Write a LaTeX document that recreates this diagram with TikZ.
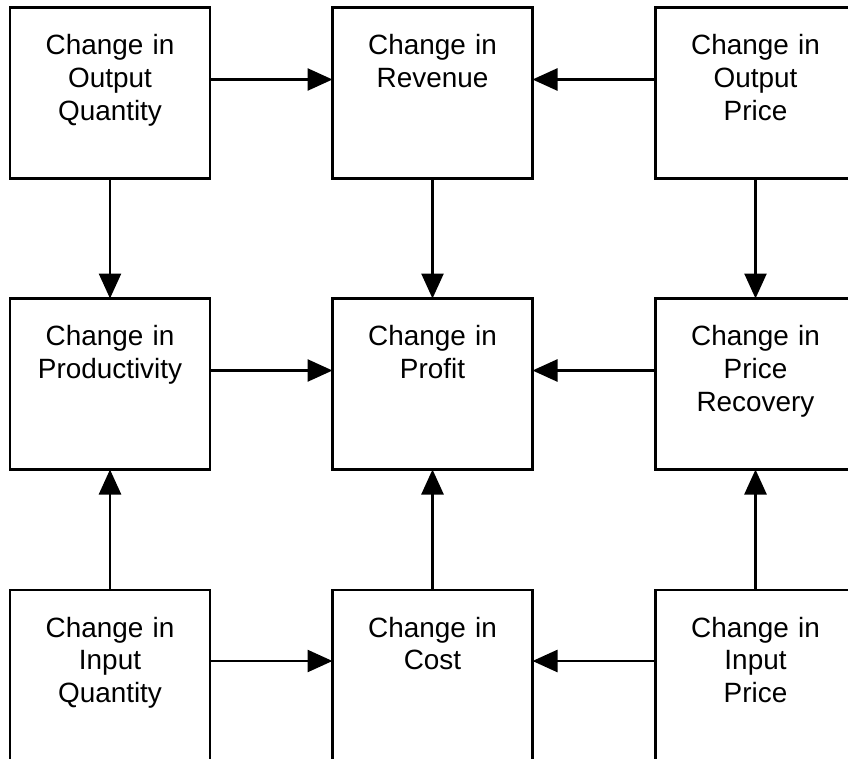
\documentclass[tikz,border=0pt]{standalone}
\usepackage{fontspec}
\setmainfont{Liberation Sans}
\usetikzlibrary{arrows.meta}

\begin{document}
\begin{tikzpicture}[x=1bp,y=-1bp,
  box/.style={draw=black,line width=2.8bp,minimum width=200bp,minimum height=171bp,
    inner sep=0pt,outer sep=0pt},
  lbl/.style={anchor=base,text width=190bp,align=center,inner sep=0pt,
    font=\fontsize{28}{33}\selectfont},
  arr/.style={line width=2.6bp,-{Triangle[length=25bp,width=22bp]}}]
  \useasboundingbox (0,0) rectangle (848,759);
  \clip (0,0) rectangle (848,759);

  % boxes, row by row
  \node[box] (oq)  at (110,93)    {};
  \node[box] (rev) at (432.5,93)  {};
  \node[box] (op)  at (755.5,93)  {};
  \node[box] (prd) at (110,384)   {};
  \node[box] (pft) at (432.5,384) {};
  \node[box] (pr)  at (755.5,384) {};
  \node[box] (iq)  at (110,675.5) {};
  \node[box] (cst) at (432.5,675.5) {};
  \node[box] (ip)  at (755.5,675.5) {};

  % captions, first baseline 47bp below each box top
  \node[lbl] (toq)  at ([yshift=-47bp]oq.north)  {Change in\\Output\\Quantity};
  \node[lbl] (trev) at ([yshift=-47bp]rev.north) {Change in\\Revenue};
  \node[lbl] (top)  at ([yshift=-47bp]op.north)  {Change in\\Output\\Price};
  \node[lbl] (tprd) at ([yshift=-47bp]prd.north) {Change in\\Productivity};
  \node[lbl] (tpft) at ([yshift=-47bp]pft.north) {Change in\\Profit};
  \node[lbl] (tpr)  at ([yshift=-47bp]pr.north)  {Change in\\Price\\Recovery};
  \node[lbl] (tiq)  at ([yshift=-47bp]iq.north)  {Change in\\Input\\Quantity};
  \node[lbl] (tcst) at ([yshift=-47bp]cst.north) {Change in\\Cost};
  \node[lbl] (tip)  at ([yshift=-47bp]ip.north)  {Change in\\Input\\Price};

  % horizontal links
  \draw[arr] ([yshift=-72bp]oq.north east) -- ([yshift=-72bp]rev.north west);
  \draw[arr] ([yshift=-72bp]op.north west) -- ([yshift=-72bp]rev.north east);
  \draw[arr] ([yshift=-72bp]prd.north east) -- ([yshift=-72bp]pft.north west);
  \draw[arr] ([yshift=-72bp]pr.north west) -- ([yshift=-72bp]pft.north east);
  \draw[arr] ([yshift=-71bp]iq.north east) -- ([yshift=-71bp]cst.north west);
  \draw[arr] ([yshift=-71bp]ip.north west) -- ([yshift=-71bp]cst.north east);

  % vertical links
  \draw[arr] (oq.south)  -- (prd.north);
  \draw[arr] (rev.south) -- (pft.north);
  \draw[arr] (op.south)  -- (pr.north);
  \draw[arr] (iq.north)  -- (prd.south);
  \draw[arr] (cst.north) -- (pft.south);
  \draw[arr] (ip.north)  -- (pr.south);
\end{tikzpicture}
\end{document}
